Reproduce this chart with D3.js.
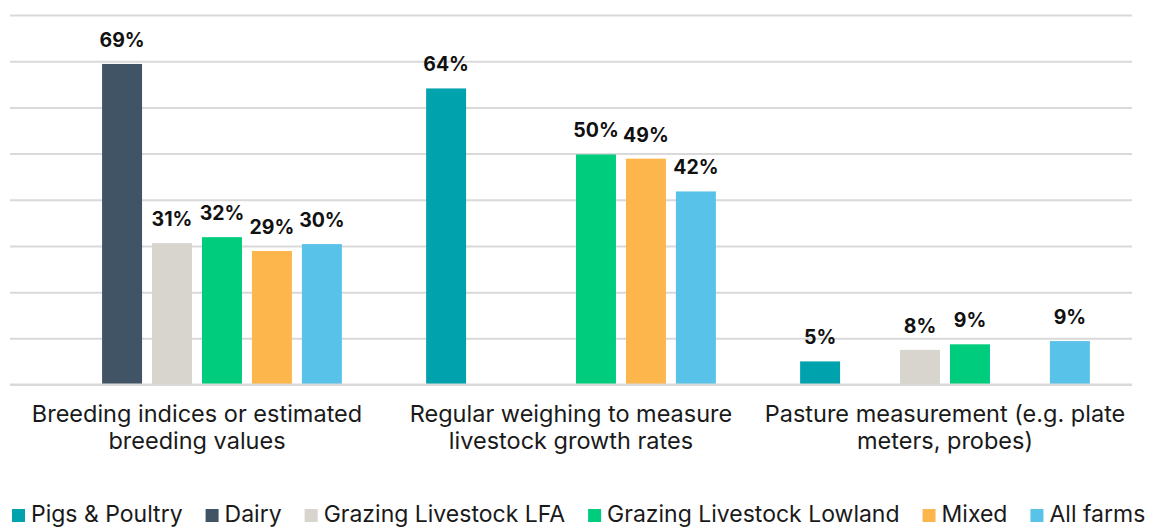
<!DOCTYPE html>
<html>
<head>
<meta charset="utf-8">
<script src="https://cdn.jsdelivr.net/npm/d3@7"></script>
<style>
  html, body { margin: 0; padding: 0; background: #fff; }
  svg { display: block; font-family: Inter, "Noto Sans", sans-serif; }
</style>
</head>
<body>
<svg id="chart" width="1150" height="527"></svg>
<script>
const categories = [
  ["Breeding indices or estimated", "breeding values"],
  ["Regular weighing to measure", "livestock growth rates"],
  ["Pasture measurement (e.g. plate", "meters, probes)"]
];
const series = ["Pigs & Poultry", "Dairy", "Grazing Livestock LFA", "Grazing Livestock Lowland", "Mixed", "All farms"];
const colors = ["#00A3AD", "#415465", "#D8D4CE", "#00CC7E", "#FDB64B", "#58C2E8"];
// values per series, one per category (null = no bar)
const pigsPoultry = [null, 64.1, 5.0];
const dairy       = [69.4, null, null];
const grazingLFA  = [30.6, null, 7.5];
const grazingLow  = [31.9, 49.8, 8.7];
const mixed       = [28.9, 48.9, null];
const allFarms    = [30.4, 41.8, 9.4];
const seriesValues = [pigsPoultry, dairy, grazingLFA, grazingLow, mixed, allFarms];
const yTicks = [0, 10, 20, 30, 40, 50, 60, 70, 80];

const svg = d3.select("#chart");
const mLeft = 10, mRight = 1132, mTop = 15, mBottom = 384.5;

const x0 = d3.scaleBand().domain(d3.range(categories.length)).range([mLeft, mRight]).padding(0);
const x1 = d3.scaleBand().domain(d3.range(series.length)).range([0, x0.bandwidth()])
  .paddingInner(0.2).paddingOuter(0.843);
const y = d3.scaleLinear().domain([0, 80]).range([mBottom, mTop]);

// gridlines
const yAxis = d3.axisLeft(y).tickValues(yTicks).tickSize(-(mRight - mLeft)).tickFormat("");
const g = svg.append("g").attr("transform", `translate(${mLeft},0)`).call(yAxis);
g.select(".domain").remove();
g.selectAll(".tick line").attr("stroke", "#D9D9D9").attr("stroke-width", 2);

// bars
const groups = svg.selectAll("g.grp").data(categories).enter().append("g")
  .attr("class", "grp").attr("transform", (d, i) => `translate(${x0(i)},0)`);

groups.each(function(cat, ci) {
  const gg = d3.select(this);
  const items = series.map((s, si) => ({ si, v: seriesValues[si][ci] })).filter(d => d.v != null);
  gg.selectAll("rect").data(items).enter().append("rect")
    .attr("x", d => x1(d.si)).attr("width", x1.bandwidth())
    .attr("y", d => y(d.v)).attr("height", d => y(0) - y(d.v))
    .attr("fill", d => colors[d.si]);
  gg.selectAll("text.val").data(items).enter().append("text")
    .attr("class", "val")
    .attr("x", d => x1(d.si) + x1.bandwidth() / 2)
    .attr("y", d => y(d.v) - 17)
    .attr("text-anchor", "middle")
    .attr("font-size", 19.5).attr("font-weight", 700).attr("fill", "#111")
    .text(d => Math.round(d.v) + "%");
  const lab = gg.append("text").attr("text-anchor", "middle")
    .attr("font-size", 23.5).attr("fill", "#1a1a1a");
  cat.forEach((line, li) => {
    lab.append("tspan").attr("x", x0.bandwidth() / 2).attr("y", 421.5 + li * 27).text(line);
  });
});

// baseline redraw on top
svg.append("line").attr("x1", mLeft).attr("x2", mRight).attr("y1", y(0)).attr("y2", y(0))
  .attr("stroke", "#D9D9D9").attr("stroke-width", 2);

// legend
const legend = svg.append("g");
let lx = 12;
series.forEach((s, i) => {
  legend.append("rect").attr("x", lx).attr("y", 509).attr("width", 13).attr("height", 13).attr("fill", colors[i]);
  const t = legend.append("text").attr("x", lx + 19).attr("y", 522)
    .attr("font-size", 23).attr("fill", "#1a1a1a").text(s);
  lx += 19 + t.node().getComputedTextLength() + 23;
});
</script>
</body>
</html>
